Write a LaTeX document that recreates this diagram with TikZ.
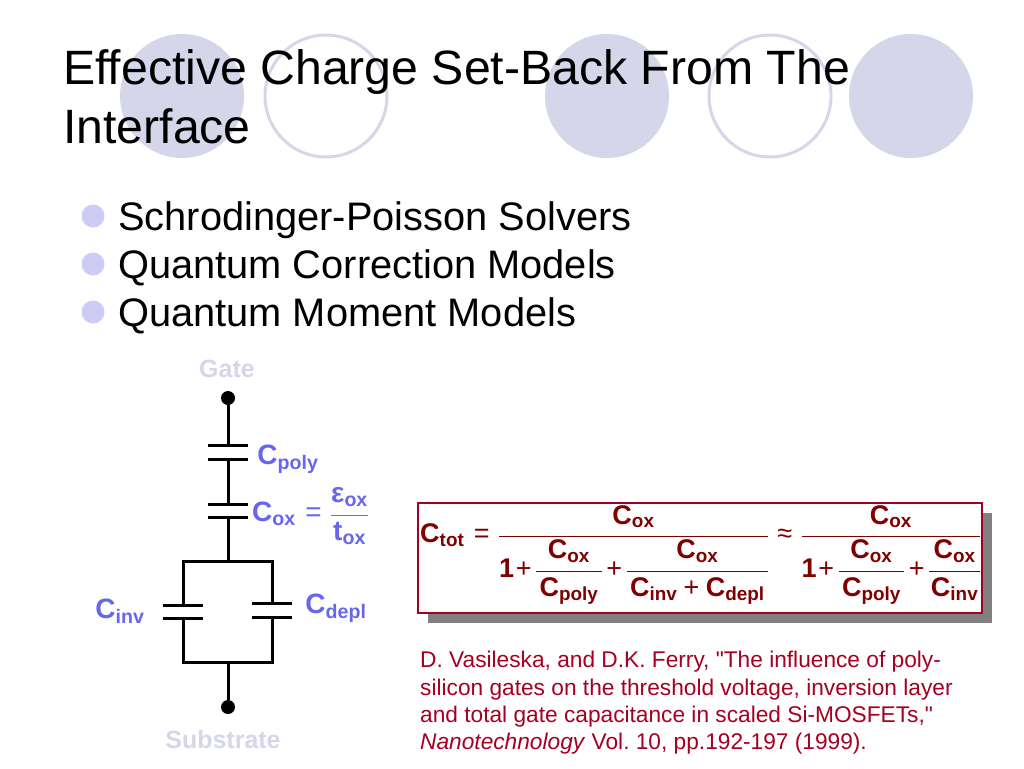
\documentclass[tikz,border=0pt]{standalone}
\usepackage{amsmath}
\usepackage{fontspec}
\setmainfont{Liberation Sans}[Ligatures=NoCommon]
\usetikzlibrary{positioning}
\definecolor{lav}{HTML}{D6D6EB}
\definecolor{bul}{HTML}{CCCCF5}
\definecolor{lbl}{HTML}{6666EE}
\definecolor{mar}{HTML}{800000}
\definecolor{crim}{HTML}{A50021}
\newcommand{\fsz}[1]{\fontsize{#1}{#1}\selectfont}
\newcommand{\csub}[2]{\text{\bfseries #1}_{\text{\bfseries #2}}}
\newcommand{\rop}[1]{\mathrel{\text{#1}}}
\newcommand{\pls}{\mathbin{\text{+}}}
\newcommand{\pp}{\mskip2mu\pls\mskip2mu}
\newcommand{\one}{\text{\bfseries 1}\pls\mskip2mu}
\newcommand{\ifr}[2]{\dfrac{\mskip2mu#1\mskip2mu}{\mskip2mu#2\mskip2mu}}
\tikzstyle{deco} = [circle, minimum size=124pt, inner sep=0pt, fill=lav]
\tikzstyle{ring} = [circle, minimum size=122pt, inner sep=0pt, draw=lav, line width=3pt]
\tikzstyle{head} = [anchor=base west, inner sep=0pt, font=\fsz{48.2}]
\tikzstyle{bitem} = [anchor=base west, inner sep=0pt, font=\fsz{39.8}]
\tikzstyle{bdot} = [circle, minimum size=23pt, inner sep=0pt, fill=bul]
\tikzstyle{term} = [circle, minimum size=14pt, inner sep=0pt, fill=black]
\tikzstyle{wire} = [line width=3pt]
\tikzstyle{plate} = [line width=3pt]
\tikzstyle{endlabel} = [font=\bfseries\fsz{25}, text=lav, inner sep=0pt]
\tikzstyle{caplabel} = [font=\fsz{28}, text=lbl, inner sep=0pt]
\tikzstyle{cite} = [anchor=base west, inner sep=0pt, text=crim, font=\fsz{22.7}]
\begin{document}
\boldmath
\frenchspacing
\thickmuskip=6mu\relax
\medmuskip=1mu\relax
\nulldelimiterspace=0pt\relax
\begin{tikzpicture}[x=1pt,y=-1pt]
	\useasboundingbox (0,0) rectangle (1024,768);
	% background circles
	\node[deco] (c1) at (182,96) {};
	\node[ring] (c2) at (326,96) {};
	\node[deco] (c3) at (607,96) {};
	\node[ring] (c4) at (770,96) {};
	\node[deco] (c5) at (911,96) {};
	% title and bullets
	\node[head] (t1) at (63,84) {Effective Charge Set-Back From The};
	\node[head] (t2) at (63,143) {Interface};
	\node[bdot] (b1) at (93,216) {};
	\node[bdot] (b2) at (93,264) {};
	\node[bdot] (b3) at (93,312) {};
	\node[bitem] (i1) at (118,230) {Schrodinger-Poisson Solvers};
	\node[bitem] (i2) at (118,278) {Quantum Correction Models};
	\node[bitem] (i3) at (118,326) {Quantum Moment Models};
	% circuit
	\node[endlabel] (gate) at (227,369) {Gate};
	\node[endlabel] (sub) at (223,740) {Substrate};
	\node[term] (g) at (228,398) {};
	\node[term] (s) at (228,707) {};
	\coordinate (p1) at (228,445);
	\coordinate (p2) at (228,459);
	\coordinate (p3) at (228,504);
	\coordinate (p4) at (228,517);
	\coordinate (top) at (228,561);
	\coordinate (bot) at (228,662);
	\coordinate (tl) at (183,561);
	\coordinate (tr) at (272,561);
	\coordinate (bl) at (183,662);
	\coordinate (br) at (272,662);
	\coordinate (l1) at (183,605);
	\coordinate (l2) at (183,618);
	\coordinate (r1) at (272,603);
	\coordinate (r2) at (272,617);
	\draw[wire] (g) -- (p1) (p2) -- (p3) (p4) -- (top) (bot) -- (s);
	\draw[wire, line cap=rect] (l1) -- (tl) -- (tr) -- (r1);
	\draw[wire, line cap=rect] (l2) -- (bl) -- (br) -- (r2);
	\foreach \p in {p1,p2,p3,p4,l1,l2,r1,r2}
		\draw[plate] ([xshift=-20pt]\p) -- ([xshift=20pt]\p);
	% labels
	\node[caplabel] (cpoly) at (288,459) {$\csub{C}{poly}$};
	\node[caplabel, anchor=west] (cox) at (252,516) {$\csub{C}{ox}\rop{=}\dfrac{\text{\bfseries ε}_{\text{\bfseries ox}}}{\text{\bfseries t}_{\text{\bfseries ox}}}$};
	\node[caplabel] (cinv) at (120,611) {$\csub{C}{inv}$};
	\node[caplabel] (cdepl) at (336,608) {$\csub{C}{depl}$};
	% formula box
	\fill[gray] (428,513) rectangle (992,623);
	\node[draw=crim, fill=white, line width=1.2pt, minimum width=564pt, minimum height=110pt, inner sep=0pt] (box) at (700,558) {};
	\node[anchor=west, inner sep=0pt, text=mar, font=\fsz{27}] (form) at (420,555) {$\csub{C}{tot}\rop{=}\dfrac{\csub{C}{ox}}{\one\ifr{\csub{C}{ox}}{\csub{C}{poly}}\pp\ifr{\csub{C}{ox}}{\csub{C}{inv}\mskip3mu\pls\mskip3mu\csub{C}{depl}}}\rop{≈}\dfrac{\csub{C}{ox}}{\one\ifr{\csub{C}{ox}}{\csub{C}{poly}}\pp\dfrac{\mskip1mu\csub{C}{ox}\mskip1mu}{\mskip1mu\csub{C}{inv}\mskip1mu}}$};
	% reference
	\node[cite] (r1t) at (420,667) {D. Vasileska, and D.K. Ferry, \textquotedbl The influence of poly-};
	\node[cite] (r2t) at (420,695) {silicon gates on the threshold voltage, inversion layer};
	\node[cite] (r3t) at (420,722) {and total gate capacitance in scaled Si-MOSFETs,\textquotedbl};
	\node[cite] (r4t) at (420,749) {\textit{Nanotechnology} Vol. 10, pp.192-197 (1999).};
\end{tikzpicture}
\end{document}
